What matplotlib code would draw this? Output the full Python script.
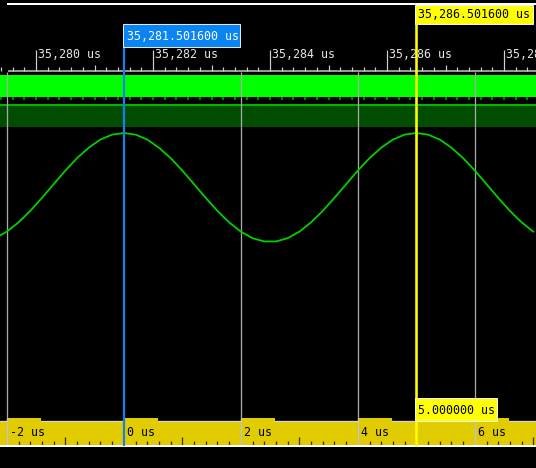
import numpy as np
import matplotlib
matplotlib.use("Agg")
import matplotlib.pyplot as plt
from matplotlib.patches import Rectangle

# ---------------- data ----------------
ruler_labels_us = [35280, 35282, 35284, 35286, 35288]   # absolute time labels (us)
cursor_a_us = 35281.501600          # blue cursor
cursor_b_us = 35286.501600          # yellow cursor
delta_us = 5.000000                 # cursor difference
rel_labels_us = [-2, 0, 2, 4, 6]    # relative time ruler labels (us)

# analog channel samples (normalised amplitude), every 0.2 us from -2.2 us relative to cursor A
t_rel_us = np.round(np.arange(-2.2, 7.01, 0.2), 1)
analog_vals = [-0.93, -0.81, -0.64, -0.43, -0.19, 0.06, 0.31, 0.54, 0.73, 0.88, 0.97,
               1.00, 0.97, 0.88, 0.73, 0.54, 0.31, 0.06, -0.19, -0.43, -0.64, -0.81,
               -0.93, -0.99, -0.99, -0.93, -0.81, -0.64, -0.43, -0.19, 0.06, 0.31,
               0.54, 0.73, 0.88, 0.97, 1.00, 0.97, 0.88, 0.73, 0.54, 0.31, 0.06,
               -0.19, -0.43, -0.64, -0.81]

# ---------------- layout helpers ----------------
W_PX, H_PX = 536, 468
PX_PER_US = 58.5
X_REF_PX = 36.0          # pixel of 35,280 us


def X(px):
    return 35280 + (px - X_REF_PX) / PX_PER_US


def W(px):
    return px / PX_PER_US


LW1 = 0.72  # 1 px in points at dpi 100
MONO = "DejaVu Sans Mono"
FS = 8.4

fig = plt.figure(figsize=(W_PX / 100, H_PX / 100), dpi=100, facecolor="black")

ax = fig.add_axes([0, 0, 1, 1])
ax.set_xlim(X(0), X(W_PX))
ax.set_ylim(H_PX, 0)
ax.axis("off")
ax.set_facecolor("black")
ax.set_zorder(0)

x_left, x_right = X(0), X(W_PX)

# top white line
ax.hlines(4, X(7), x_right, color="white", lw=2 * LW1)

# top ruler
ax.hlines(71, X(8), x_right, color="#c8c8c8", lw=1.5 * LW1)
ticks = np.round(np.arange(35279.4, 35289.01, 0.2), 1)
for t in ticks:
    frac = round(t % 2, 1)
    if frac in (0.0, 2.0):
        ax.vlines(t, 50, 71, color="#d0d0d0", lw=1.2 * LW1)
    elif abs(frac - 1.0) < 1e-6:
        ax.vlines(t, 65, 71, color="#d0d0d0", lw=1.2 * LW1)
    else:
        ax.vlines(t, 67, 71, color="#d0d0d0", lw=1.2 * LW1)
for v in ruler_labels_us:
    ax.text(v + W(2), 55, f"{v:,} us", color="#e6e6e6", fontsize=FS,
            family=MONO, va="center", ha="left")

# digital channel 1 (bright green band)
ax.add_patch(Rectangle((x_left, 75), x_right - x_left, 22, facecolor="#00ff00",
                       edgecolor="none"))
for t in ticks:
    ax.vlines(t, 97, 99.5, color="#00b000", lw=1.5 * LW1)

# digital channel 2 (dark green band)
ax.hlines(104.5, x_left, x_right, color="#00b400", lw=2 * LW1)
ax.add_patch(Rectangle((x_left, 106), x_right - x_left, 21, facecolor="#004c00",
                       edgecolor="none"))

# grid lines at relative even microseconds
for r in rel_labels_us:
    if r == 0:
        continue
    ax.vlines(cursor_a_us + r, 72, 446, color="#a8a8a8", lw=1.3 * LW1)

# bottom relative ruler
ax.add_patch(Rectangle((x_left, 421), x_right - x_left, 25, facecolor="#e0cc00",
                       edgecolor="none", zorder=1))
ax.hlines(421, x_left, x_right, color="#d8d8c8", lw=1.3 * LW1, zorder=1.5)
for r in rel_labels_us:
    ax.add_patch(Rectangle((cursor_a_us + r, 417.5), W(34), 5, facecolor="#e0cc00",
                           edgecolor="none", zorder=2))
    ax.text(cursor_a_us + r + W(3), 432.5, f"{r} us", color="black", fontsize=FS,
            family=MONO, va="center", ha="left", zorder=3)
for r in rel_labels_us:
    if r == 0:
        continue
    ax.vlines(cursor_a_us + r, 417.5, 446, color="#c8c8b8", lw=1.3 * LW1, zorder=2.5)
rel_ticks = np.round(np.arange(-2.4, 7.21, 0.2), 1)
for r in rel_ticks:
    fr = round(r % 2, 1)
    if fr in (0.0, 2.0):
        continue
    ln = 9 if abs(fr - 1.0) < 1e-6 else 5
    ax.vlines(cursor_a_us + r, 446 - ln, 446, color="#3a3410", lw=1.3 * LW1, zorder=3)
ax.hlines(446, x_left, x_right, color="white", lw=2 * LW1, zorder=3)

# analog trace in its own axes
ax2 = fig.add_axes([0, (H_PX - 242) / H_PX, 1, 109 / H_PX])
ax2.set_xlim(X(0), X(W_PX))
ax2.set_ylim(-1, 1)
ax2.axis("off")
ax2.patch.set_visible(False)
ax2.set_zorder(1)
ax2.plot(cursor_a_us + t_rel_us, analog_vals, color="#00d000", lw=1.8 * LW1,
         clip_on=False)

# overlay for cursors
ax3 = fig.add_axes([0, 0, 1, 1])
ax3.set_xlim(X(0), X(W_PX))
ax3.set_ylim(H_PX, 0)
ax3.axis("off")
ax3.patch.set_visible(False)
ax3.set_zorder(2)

ax3.vlines(cursor_a_us, 47, 446, color="#1480f0", lw=2.2 * LW1)
ax3.vlines(cursor_b_us, 5, 446, color="#ffff00", lw=2.6 * LW1)

ax3.add_patch(Rectangle((cursor_a_us - W(0.5), 24), W(117), 23, facecolor="#0a84f5",
                        edgecolor="#dde8f8", lw=LW1, zorder=5))
ax3.text(cursor_a_us + W(3), 36, f"{cursor_a_us:,.6f} us", color="white",
         fontsize=FS, family=MONO, va="center", ha="left", zorder=6)

ax3.add_patch(Rectangle((cursor_b_us - W(1), 5), W(118), 19, facecolor="#ffff00",
                        edgecolor="#f0f0f0", lw=LW1, zorder=5))
ax3.text(cursor_b_us + W(2), 14.5, f"{cursor_b_us:,.6f} us", color="black",
         fontsize=FS, family=MONO, va="center", ha="left", zorder=6)

ax3.add_patch(Rectangle((cursor_b_us - W(1), 398), W(82), 23, facecolor="#ffff00",
                        edgecolor="#f0f0f0", lw=LW1, zorder=5))
ax3.text(cursor_b_us + W(2), 410, f"{delta_us:.6f} us", color="black",
         fontsize=FS, family=MONO, va="center", ha="left", zorder=6)

fig.savefig("out.png", dpi=100, facecolor="black")
